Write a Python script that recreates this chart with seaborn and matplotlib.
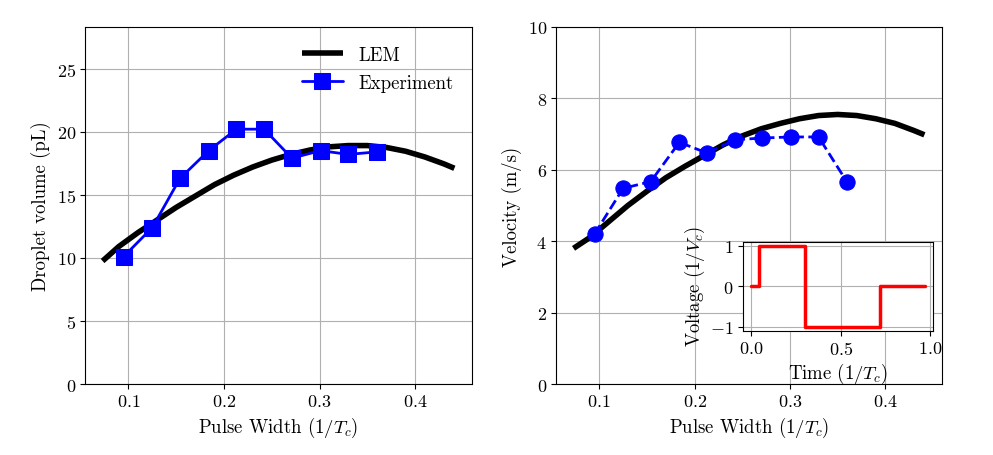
import numpy as np
import pandas as pd
import matplotlib
matplotlib.use("Agg")
import matplotlib.pyplot as plt
import seaborn as sns

# Pulse widths of the experiments (1/Tc)
pulse_width = [0.095, 0.125, 0.154, 0.184, 0.213, 0.242, 0.271, 0.301, 0.330, 0.360]
volume_exp = [10.1, 12.4, 16.3, 18.5, 20.2, 20.2, 17.9, 18.5, 18.2, 18.4]
velocity_exp = [4.20, 5.48, 5.67, 6.77, 6.47, 6.84, 6.89, 6.92, 6.92, 5.65]

# LEM model curves
lem_x = [0.073, 0.09, 0.11, 0.13, 0.15, 0.17, 0.19, 0.21, 0.23, 0.25,
         0.27, 0.29, 0.31, 0.33, 0.35, 0.37, 0.39, 0.41, 0.43, 0.441]
lem_volume = [9.75, 10.9, 12.0, 13.0, 14.0, 14.9, 15.8, 16.55, 17.2, 17.75,
              18.2, 18.55, 18.8, 18.9, 18.9, 18.75, 18.45, 18.0, 17.45, 17.1]
lem_velocity = [3.8, 4.1, 4.55, 5.0, 5.4, 5.78, 6.1, 6.4, 6.7, 6.95,
                7.15, 7.3, 7.43, 7.52, 7.55, 7.52, 7.43, 7.3, 7.1, 6.98]

# Driving waveform (inset)
wave_t = [0.0, 0.04, 0.04, 0.30, 0.30, 0.72, 0.72, 0.97]
wave_v = [0, 0, 1, 1, -1, -1, 0, 0]

sns.set_theme(style="ticks")
plt.rcParams['font.family'] = 'serif'
plt.rcParams['font.serif'] = ['cmr10']
plt.rcParams['mathtext.fontset'] = 'cm'
plt.rcParams['axes.formatter.use_mathtext'] = True
plt.rcParams['axes.unicode_minus'] = True
plt.rcParams['text.color'] = 'black'
plt.rcParams['axes.labelcolor'] = 'black'

TICK = 13
LABEL = 13.5

fig = plt.figure(figsize=(9.93, 4.56), dpi=100)
ax1 = fig.add_axes([0.0856, 0.1557, 0.3897, 0.7829])
ax2 = fig.add_axes([0.5599, 0.1557, 0.3887, 0.7829])


def style_axes(ax):
    ax.grid(True, color='#b0b0b0', linewidth=0.8)
    ax.set_axisbelow(True)
    for s in ax.spines.values():
        s.set_color('black')
        s.set_linewidth(0.8)
    ax.tick_params(labelsize=TICK, color='black', length=3.5, width=0.8,
                   labelcolor='black', pad=3)


for ax in (ax1, ax2):
    style_axes(ax)

# left: droplet volume
sns.lineplot(x=lem_x, y=lem_volume, ax=ax1, color='black', linewidth=4,
             solid_capstyle='butt', label='LEM')
sns.lineplot(x=pulse_width, y=volume_exp, ax=ax1, color='blue', linewidth=2,
             marker='s', markersize=11, markeredgecolor='blue', label='Experiment')
ax1.set_ylim(0, 28.3)
ax1.set_yticks([0, 5, 10, 15, 20, 25])
ax1.set_xticks([0.1, 0.2, 0.3, 0.4])
ax1.set_xlabel('Pulse Width $(1/T_c)$', fontsize=LABEL)
ax1.set_ylabel('Droplet volume (pL)', fontsize=LABEL)
ax1.legend(loc='upper right', fontsize=13.5, frameon=False, handlelength=2.2,
           labelspacing=0.55, borderaxespad=0.6, labelcolor='black')

# right: velocity
sns.lineplot(x=lem_x, y=lem_velocity, ax=ax2, color='black', linewidth=4,
             solid_capstyle='butt')
sns.lineplot(x=pulse_width, y=velocity_exp, ax=ax2, color='blue', linewidth=2,
             linestyle='--', marker='o', markersize=11, markeredgecolor='blue')
ax2.set_ylim(0, 10)
ax2.set_xticks([0.1, 0.2, 0.3, 0.4])
ax2.set_xlabel('Pulse Width $(1/T_c)$', fontsize=LABEL)
ax2.set_ylabel('Velocity (m/s)', fontsize=LABEL)

# inset with waveform
ax3 = fig.add_axes([0.748, 0.2726, 0.192, 0.195])
wave = pd.DataFrame({'t': wave_t, 'v': wave_v})
sns.lineplot(data=wave, x='t', y='v', ax=ax3, color='red', linewidth=2.5,
             sort=False, estimator=None)
style_axes(ax3)
ax3.set_xticks([0.0, 0.5, 1.0])
ax3.set_yticks([-1, 0, 1])
ax3.set_xlabel('Time $(1/T_c)$', fontsize=LABEL, labelpad=3)
ax3.set_ylabel('Voltage $(1/V_c)$', fontsize=LABEL, labelpad=2)

fig.savefig('out.png', dpi=100)
